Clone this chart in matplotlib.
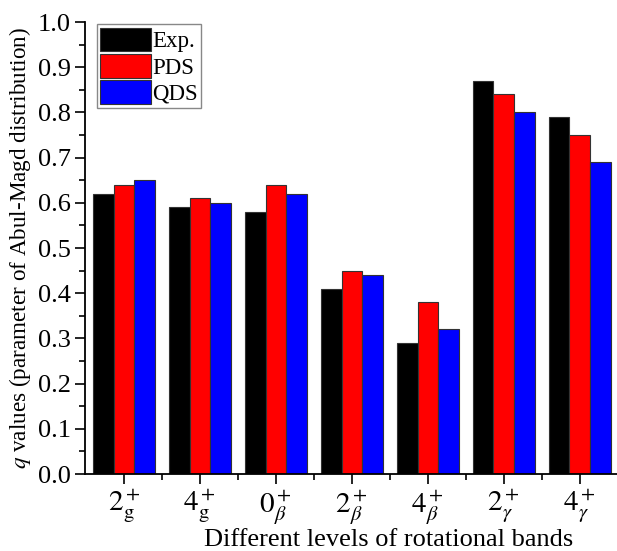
import matplotlib.pyplot as plt
import numpy as np

plt.rcParams["font.family"] = ["Liberation Serif", "DejaVu Serif"]
plt.rcParams["mathtext.fontset"] = "stix"

levels = [r"$2^+_\mathrm{g}$", r"$4^+_\mathrm{g}$", r"$0^+_\beta$", r"$2^+_\beta$",
          r"$4^+_\beta$", r"$2^+_\gamma$", r"$4^+_\gamma$"]
exp_q = [0.62, 0.59, 0.58, 0.41, 0.29, 0.87, 0.79]
pds_q = [0.64, 0.61, 0.64, 0.45, 0.38, 0.84, 0.75]
qds_q = [0.65, 0.60, 0.62, 0.44, 0.32, 0.80, 0.69]

fig = plt.figure(figsize=(6.17, 5.51), dpi=100)
ax = fig.add_axes([0.1378, 0.1397, 0.8622, 0.8203])

x = np.arange(len(levels))
w = 0.272
ax.bar(x - w, exp_q, w, color="black", edgecolor="#333333", lw=0.8, label="Exp.")
ax.bar(x, pds_q, w, color="#ff0000", edgecolor="#333333", lw=0.8, label="PDS")
ax.bar(x + w, qds_q, w, color="#0000ff", edgecolor="#333333", lw=0.8, label="QDS")

ax.set_xlim(-0.513, 6.49)
ax.set_ylim(0, 1.0)
ax.set_xticks(x)
ax.set_xticklabels(levels, fontsize=21)
ax.set_xticks(x[:-1] + 0.5, minor=True)
yt = np.arange(0, 1.01, 0.1)
ax.set_yticks(yt)
ax.set_yticklabels([f"{v:.1f}" for v in yt], fontsize=19)
ax.set_yticks(np.arange(0.05, 1.0, 0.1), minor=True)
ax.tick_params(axis="both", which="major", direction="out", length=7, width=1.2, pad=3)
ax.tick_params(axis="both", which="minor", direction="out", length=4, width=1.2)

for s in ["top", "right"]:
    ax.spines[s].set_visible(False)
for s in ["left", "bottom"]:
    ax.spines[s].set_linewidth(1.3)

ax.set_xlabel("Different levels of rotational bands", fontsize=19)
ax.xaxis.set_label_coords(0.57, -0.121)
ax.set_ylabel(r"$q$ values (parameter of Abul-Magd distribution)", fontsize=16.7, labelpad=4)

leg = ax.legend(loc="upper left", bbox_to_anchor=(0.0226, 0.995), fontsize=16.5,
                handlelength=2.2, handleheight=1.2, handletextpad=0.05,
                labelspacing=0.08, borderpad=0.15, borderaxespad=0,
                fancybox=False, framealpha=1)
leg.get_frame().set_edgecolor("#888888")
leg.get_frame().set_linewidth(1)

fig.savefig("out.png", dpi=100)
